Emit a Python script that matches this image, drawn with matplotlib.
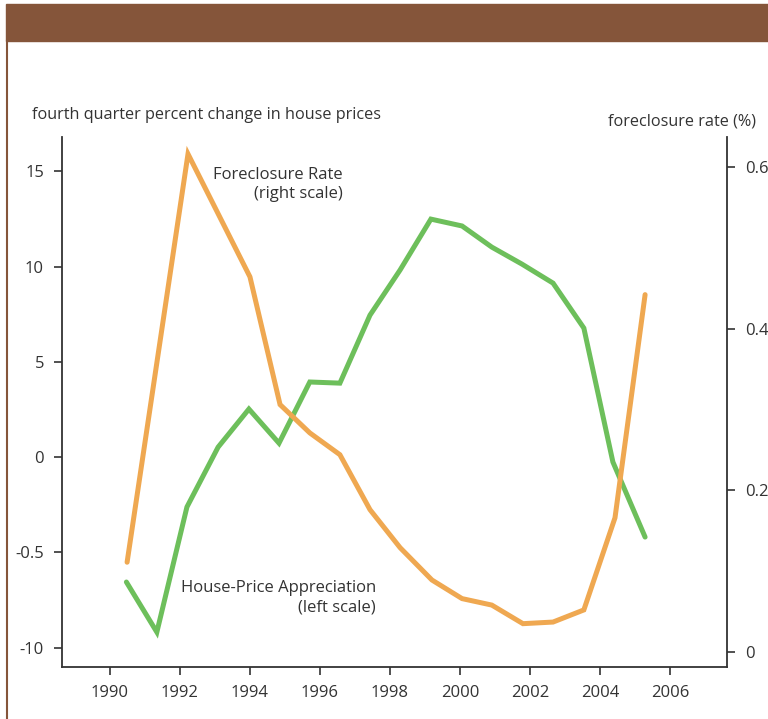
import matplotlib
matplotlib.use("Agg")
import matplotlib.pyplot as plt
from matplotlib.patches import Rectangle
from matplotlib.lines import Line2D

plt.rcParams['font.family'] = ['Open Sans', 'DejaVu Sans']

# house-price appreciation, left scale (percent change)
hpa_years = [1990.47, 1991.34, 1992.2, 1993.09, 1993.97, 1994.83, 1995.71, 1996.57, 1997.43,
             1998.29, 1999.17, 2000.06, 2000.91, 2001.77, 2002.66, 2003.54, 2004.37, 2005.29]
hpa_values = [-6.56, -9.19, -2.62, 0.52, 2.52, 0.73, 3.94, 3.88, 7.45,
              9.82, 12.49, 12.13, 11.02, 10.13, 9.13, 6.77, -0.26, -4.2]

# foreclosure rate, right scale (%)
fc_years = [1990.49, 1992.23, 1994.0, 1994.86, 1995.71, 1996.57, 1997.43, 1998.29,
            1999.2, 2000.06, 2000.91, 2001.8, 2002.66, 2003.54, 2004.43, 2005.29]
fc_values = [0.111, 0.616, 0.464, 0.306, 0.271, 0.244, 0.176, 0.129,
             0.089, 0.066, 0.058, 0.035, 0.037, 0.052, 0.166, 0.442]

left_ticks = [15, 10, 5, 0, -5, -10]
left_labels = ['15', '10', '5', '0', '-0.5', '-10']
right_ticks = [0, 0.2, 0.4, 0.6]
right_labels = ['0', '0.2', '0.4', '0.6']
x_ticks = [1990, 1992, 1994, 1996, 1998, 2000, 2002, 2004, 2006]

GREEN = '#6dbf5b'
ORANGE = '#efa851'
BROWN = '#85553a'
DARK = '#333333'

fig = plt.figure(figsize=(7.68, 7.19), dpi=100)

# header band and left border line
fig.patches.append(Rectangle((6 / 768, 1 - 41 / 719), 1, 37 / 719,
                             transform=fig.transFigure, color=BROWN, zorder=0))
fig.lines.append(Line2D([7 / 768, 7 / 768], [0, 1 - 41 / 719],
                        transform=fig.transFigure, color=BROWN, lw=1.5))

ax = fig.add_axes([62 / 768, 52 / 719, 665 / 768, 530 / 719])
ax2 = ax.twinx()

ax.plot(hpa_years, hpa_values, color=GREEN, lw=3.6, solid_capstyle='round',
        solid_joinstyle='miter', zorder=3)
ax2.plot(fc_years, fc_values, color=ORANGE, lw=3.6, solid_capstyle='round',
         solid_joinstyle='miter', zorder=3)

ax.set_xlim(1988.63, 2007.63)
ax.set_ylim(-11.02, 16.8)
ax2.set_ylim(-0.0186, 0.637)

ax.set_xticks(x_ticks)
ax.set_yticks(left_ticks)
ax.set_yticklabels(left_labels)
ax2.set_yticks(right_ticks)
ax2.set_yticklabels(right_labels)

for a in (ax, ax2):
    a.spines['top'].set_visible(False)
    for s in a.spines.values():
        s.set_color(DARK)
        s.set_linewidth(1.3)
    a.tick_params(colors=DARK, labelcolor=DARK, labelsize=12, length=6, width=1.2, pad=7)
ax.spines['right'].set_visible(False)
ax2.spines['left'].set_visible(False)
ax2.spines['bottom'].set_visible(False)

fig.text(32 / 768, 1 - 115 / 719, 'fourth quarter percent change in house prices',
         fontsize=11.7, color=DARK, va='center', ha='left')
fig.text(608 / 768, 1 - 122 / 719, 'foreclosure rate (%)',
         fontsize=11.7, color=DARK, va='center', ha='left')

ax.text(1996.65, 14.3, 'Foreclosure Rate\n(right scale)', fontsize=12, color=DARK,
        ha='right', va='center', linespacing=1.3)
ax.text(1997.6, -7.4, 'House-Price Appreciation\n(left scale)', fontsize=12, color=DARK,
        ha='right', va='center', linespacing=1.3)

fig.savefig('out.png', dpi=100)
